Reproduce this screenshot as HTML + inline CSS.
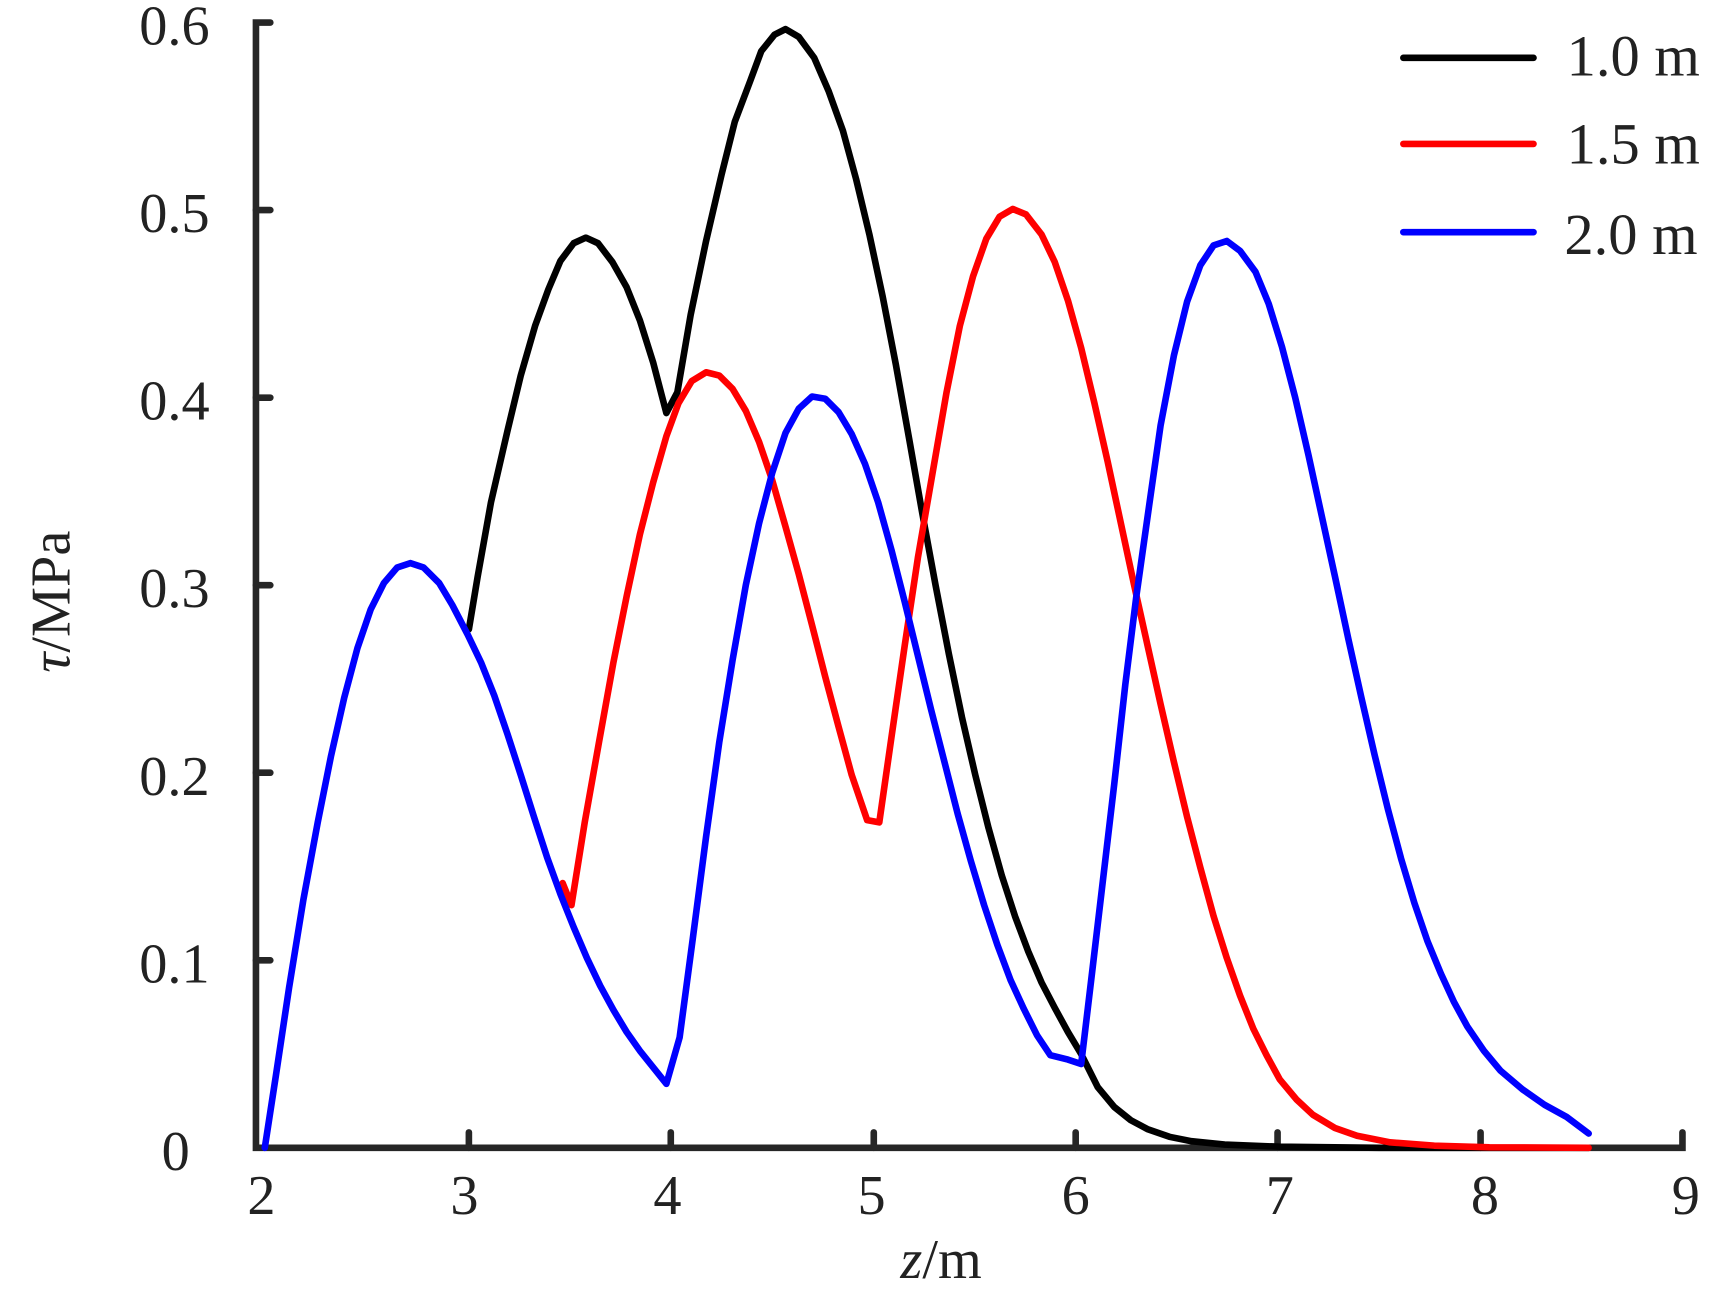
<!DOCTYPE html>
<html><head><meta charset="utf-8"><style>
html,body{margin:0;padding:0;background:#fff;}
svg{display:block;}
text{font-family:"Liberation Serif",serif;fill:#222;}
</style></head><body>
<svg width="1731" height="1300" viewBox="0 0 1569 1177.5" xmlns="http://www.w3.org/2000/svg">
<g stroke="#262626" stroke-width="6" stroke-linecap="round" fill="none">
<polyline points="245,20 232,20 232,1040 1525,1040 1525,1026"/>
<line x1="232" y1="190" x2="245" y2="190"/>
<line x1="232" y1="360" x2="245" y2="360"/>
<line x1="232" y1="530" x2="245" y2="530"/>
<line x1="232" y1="700" x2="245" y2="700"/>
<line x1="232" y1="870" x2="245" y2="870"/>
<line x1="425" y1="1040" x2="425" y2="1026"/>
<line x1="608" y1="1040" x2="608" y2="1026"/>
<line x1="792" y1="1040" x2="792" y2="1026"/>
<line x1="975" y1="1040" x2="975" y2="1026"/>
<line x1="1158" y1="1040" x2="1158" y2="1026"/>
<line x1="1342" y1="1040" x2="1342" y2="1026"/>
</g>
<g font-size="51" text-anchor="end">
<text x="190" y="40">0.6</text>
<text x="190" y="210">0.5</text>
<text x="190" y="380">0.4</text>
<text x="190" y="550">0.3</text>
<text x="190" y="720">0.2</text>
<text x="190" y="890">0.1</text>
<text x="172" y="1060">0</text>
</g>
<g font-size="51" text-anchor="middle">
<text x="237" y="1100">2</text>
<text x="421" y="1100">3</text>
<text x="605" y="1100">4</text>
<text x="790" y="1100">5</text>
<text x="975" y="1100">6</text>
<text x="1160" y="1100">7</text>
<text x="1346" y="1100">8</text>
<text x="1528" y="1100">9</text>
<text x="853" y="1158"><tspan font-style="italic">z</tspan>/m</text>
</g>
<text font-size="51" text-anchor="middle" transform="translate(63,545) rotate(-90)"><tspan font-style="italic">τ</tspan>/MPa</text>
<g fill="none" stroke-width="6" stroke-linejoin="round" stroke-linecap="round">
<polyline stroke="#000" points="425,570 433,522 445,455 460,390 472,340 485,295 497,262 508,236 520,220 531,215 542,220 555,237 568,260 580,290 592,328 604,374 614,355 626,285 640,218 654,158 666,110 680,73 690,46 702,31 712,26 724,33 738,52 751,82 764,118 776,162 788,212 800,268 812,330 824,397 836,465 848,530 860,592 872,650 884,702 896,750 908,793 920,830 932,862 944,890 956,913 968,935 980,955 995,985 1010,1003 1025,1015 1040,1023 1060,1030 1080,1034 1110,1037 1160,1039 1250,1040 1440,1040"/>
<polyline stroke="#f00" points="510,800 518,820 530,745 543,672 556,600 568,540 580,484 592,437 604,395 615,365 627,345 640,337 652,340 664,352 676,372 688,400 700,435 712,477 724,520 736,566 748,613 760,658 772,702 786,743 797,745 808,668 820,585 832,505 845,430 858,355 870,295 882,250 894,216 906,196 918,189 930,194 944,212 956,237 968,272 980,315 992,365 1004,418 1016,474 1028,530 1040,584 1052,638 1064,690 1076,740 1088,786 1100,830 1112,868 1124,902 1136,932 1148,956 1160,978 1175,996 1190,1010 1210,1022 1230,1029 1260,1035 1300,1038 1350,1039.5 1440,1040"/>
<polyline stroke="#00f" points="240,1040 250,975 262,895 275,815 288,745 300,685 312,632 324,587 336,552 348,528 360,514 372,510 384,514 398,528 410,548 424,575 436,600 448,630 460,665 472,702 484,740 496,777 508,810 520,840 532,868 544,893 556,915 568,935 580,952 592,967 604,982 616,940 628,850 640,758 652,672 664,598 676,530 688,474 700,428 712,392 724,370 736,359 748,361 760,373 772,393 784,420 796,455 808,498 820,545 832,594 844,643 856,690 868,737 880,780 892,820 904,856 916,888 928,914 940,938 952,956 968,960 980,964 990,880 1000,795 1010,710 1020,620 1030,540 1042,455 1052,385 1064,322 1076,273 1088,240 1100,222 1112,218 1124,227 1138,246 1150,275 1162,314 1174,360 1186,412 1198,467 1210,522 1222,578 1234,632 1246,684 1258,733 1270,778 1282,818 1294,853 1306,882 1318,908 1330,930 1345,952 1360,970 1380,987 1400,1001 1420,1012 1440,1027"/>
<line stroke="#000" x1="1272" y1="52" x2="1390" y2="52"/>
<line stroke="#f00" x1="1272" y1="130" x2="1390" y2="130"/>
<line stroke="#00f" x1="1272" y1="210" x2="1390" y2="210"/>
</g>
<g font-size="53">
<text x="1420" y="68">1.0 m</text>
<text x="1420" y="148">1.5 m</text>
<text x="1418" y="230">2.0 m</text>
</g>
</svg>
</body></html>
